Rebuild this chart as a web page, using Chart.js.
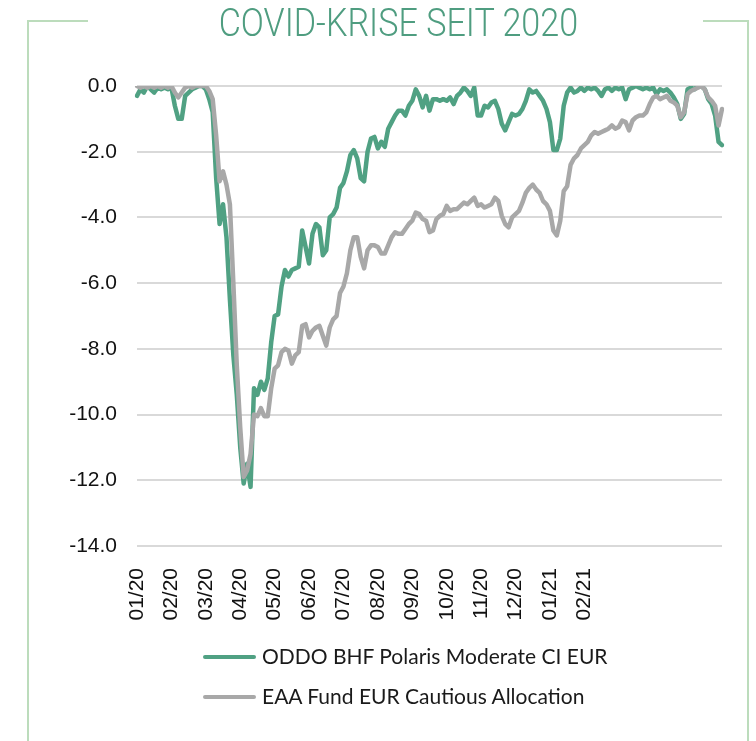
<!DOCTYPE html>
<html>
<head>
<meta charset="utf-8">
<script src="https://cdn.jsdelivr.net/npm/chart.js@4.4.1/dist/chart.umd.min.js"></script>
<style>
  html, body { margin: 0; padding: 0; background: #fff; }
  #wrap { position: relative; width: 756px; height: 741px; overflow: hidden; }
  #chart { position: absolute; left: 0; top: 0; }
  .frame { position: absolute; background: #bcdcbc; }
  #title {
    position: absolute; left: 0; top: 1px; width: 796px; text-align: center;
    font-family: Roboto, sans-serif; font-weight: 300; font-size: 39px;
    color: #4f9d80; line-height: 44px;
  }
  #title span { display: inline-block; transform: scaleX(0.875); transform-origin: center; }
  .legend { position: absolute; left: 203px; font-family: Lato, sans-serif; font-size: 21px; color: #1a1a1a; }
  .legend .row { position: relative; height: 40px; }
  .legend .swatch { position: absolute; left: 0; width: 53px; height: 4px; border-radius: 2px; }
  .legend .lbl { position: absolute; left: 59px; white-space: nowrap; }
</style>
</head>
<body>
<div id="wrap">
  <canvas id="chart" width="756" height="741"></canvas>
  <div class="frame" style="left:27px; top:20px; width:2px; height:721px;"></div>
  <div class="frame" style="left:27px; top:20px; width:61px; height:2px;"></div>
  <div class="frame" style="left:703px; top:20px; width:46px; height:2px;"></div>
  <div class="frame" style="left:747px; top:20px; width:2px; height:721px;"></div>
  <div id="title"><span>COVID-KRISE SEIT 2020</span></div>
  <div class="legend" id="legend" style="top:643px;"></div>
</div>
<script>
// month tick labels, one every 10 data points
const monthLabels = ['01/20', '02/20', '03/20', '04/20', '05/20', '06/20', '07/20',
  '08/20', '09/20', '10/20', '11/20', '12/20', '01/21', '02/21'];
const labelStep = 10;

const seriesNames = ['ODDO BHF Polaris Moderate CI EUR', 'EAA Fund EUR Cautious Allocation'];
const seriesColors = ['#50a183', '#a8a8a8'];

// drawdown in %
const oddoValues = [
  -0.3, -0.1, -0.2, 0, -0.1, -0.2, -0.05, -0.1, -0.05, -0.1,
  -0.05, -0.6, -1.0, -1.0, -0.3, -0.2, -0.1, -0.05, 0, 0,
  -0.1, -0.4, -0.8, -2.8, -4.2, -3.6, -4.6, -6.5, -8.2, -9.4,
  -11.0, -12.1, -11.5, -12.2, -9.2, -9.4, -9.0, -9.25, -8.9, -7.8,
  -7.0, -6.95, -6.1, -5.6, -5.8, -5.6, -5.55, -5.5, -4.4, -4.9,
  -5.4, -4.5, -4.2, -4.3, -5.15, -5.0, -4.0, -3.9, -3.7, -3.1,
  -2.95, -2.6, -2.1, -1.95, -2.2, -2.8, -2.9, -2.0, -1.6, -1.55,
  -1.9, -1.7, -1.85, -1.3, -1.1, -0.9, -0.75, -0.75, -0.9, -0.6,
  -0.45, -0.1, -0.3, -0.65, -0.3, -0.75, -0.4, -0.4, -0.45, -0.4,
  -0.45, -0.35, -0.55, -0.3, -0.2, -0.05, -0.15, -0.3, -0.05, -0.9,
  -0.9, -0.6, -0.65, -0.5, -0.45, -0.7, -1.15, -1.35, -1.1, -0.85,
  -0.9, -0.85, -0.7, -0.45, -0.1, -0.2, -0.15, -0.3, -0.45, -0.7,
  -1.1, -1.95, -1.95, -1.6, -0.6, -0.2, -0.05, -0.2, -0.15, -0.05,
  -0.15, -0.05, -0.1, -0.05, -0.15, -0.3, -0.1, -0.05, -0.15, -0.05,
  -0.1, -0.05, -0.4, -0.1, -0.05, 0, -0.05, -0.1, -0.05, -0.1,
  -0.05, -0.25, -0.1, -0.15, -0.1, -0.2, -0.35, -0.55, -1.0, -0.85,
  -0.1, -0.05, -0.1, 0, 0, -0.1, -0.4, -0.55, -0.9, -1.7,
  -1.8
];
const eaaValues = [
  0, -0.05, 0, -0.05, 0, -0.05, 0, -0.05, 0, -0.05,
  0, -0.2, -0.35, -0.2, -0.05, 0, -0.05, 0, 0, 0,
  0, -0.15, -0.4, -1.5, -2.9, -2.6, -3.0, -3.6, -6.0, -8.5,
  -10.4, -11.9, -11.7, -11.2, -10.0, -10.05, -9.8, -10.05, -10.05, -9.2,
  -8.6, -8.5, -8.1, -8.0, -8.05, -8.45, -8.2, -8.1, -7.3, -7.25,
  -7.65, -7.45, -7.35, -7.3, -7.6, -7.9, -7.35, -7.1, -7.0, -6.3,
  -6.1, -5.7, -5.0, -4.6, -4.6, -5.2, -5.55, -5.0, -4.85, -4.85,
  -4.9, -5.1, -5.1, -4.85, -4.6, -4.45, -4.5, -4.5, -4.35, -4.2,
  -4.1, -3.85, -3.9, -4.05, -4.1, -4.45, -4.4, -4.05, -3.95, -3.9,
  -3.65, -3.8, -3.75, -3.75, -3.65, -3.55, -3.6, -3.5, -3.4, -3.65,
  -3.6, -3.7, -3.65, -3.6, -3.4, -3.5, -3.95, -4.2, -4.3, -4.0,
  -3.9, -3.8, -3.55, -3.25, -3.1, -3.0, -3.15, -3.25, -3.5, -3.6,
  -3.8, -4.4, -4.55, -4.1, -3.2, -3.05, -2.4, -2.2, -2.1, -1.9,
  -1.8, -1.7, -1.5, -1.4, -1.45, -1.4, -1.35, -1.3, -1.2, -1.3,
  -1.25, -1.05, -1.1, -1.35, -1.05, -0.95, -0.9, -0.9, -0.8, -0.55,
  -0.35, -0.3, -0.4, -0.35, -0.3, -0.45, -0.5, -0.6, -0.95, -0.8,
  -0.25, -0.15, -0.1, -0.05, 0, -0.1, -0.35, -0.45, -0.6, -1.2,
  -0.7
];

const yMin = -14, yMax = 0, yStep = 2;

const categories = oddoValues.map((_, i) =>
  i % labelStep === 0 && monthLabels[i / labelStep] ? monthLabels[i / labelStep] : '');

const legendEl = document.getElementById('legend');
seriesNames.forEach((name, k) => {
  const row = document.createElement('div');
  row.className = 'row';
  row.innerHTML = '<div class="swatch" style="top:12px;background:' + seriesColors[k] + '"></div>' +
    '<div class="lbl">' + name + '</div>';
  legendEl.appendChild(row);
});

const ctx = document.getElementById('chart').getContext('2d');
new Chart(ctx, {
  type: 'line',
  data: {
    labels: categories,
    datasets: [
      { label: seriesNames[0], data: oddoValues, borderColor: seriesColors[0], order: 1 },
      { label: seriesNames[1], data: eaaValues, borderColor: seriesColors[1], order: 0 }
    ]
  },
  options: {
    responsive: false,
    animation: false,
    layout: { padding: { top: 86, right: 34, bottom: 0, left: 0 } },
    elements: {
      line: { borderWidth: 4.5, tension: 0, borderJoinStyle: 'round', borderCapStyle: 'round' },
      point: { radius: 0 }
    },
    plugins: { legend: { display: false }, tooltip: { enabled: false } },
    scales: {
      x: {
        grid: { display: false },
        border: { display: false },
        ticks: {
          autoSkip: false, maxRotation: 90, minRotation: 90, padding: 14,
          color: '#111', font: { family: 'Liberation Sans', size: 21 }
        },
        afterFit: s => { s.height = 195; s.paddingLeft = 0; s.paddingRight = 0; }
      },
      y: {
        min: yMin, max: yMax,
        grid: { color: '#d9d9d9', lineWidth: 2, drawTicks: false },
        border: { display: false },
        ticks: {
          stepSize: yStep, padding: 20, color: '#111',
          font: { family: 'Liberation Sans', size: 21 },
          callback: v => v.toFixed(1)
        },
        afterFit: s => { s.width = 137; }
      }
    }
  }
});
</script>
</body>
</html>
